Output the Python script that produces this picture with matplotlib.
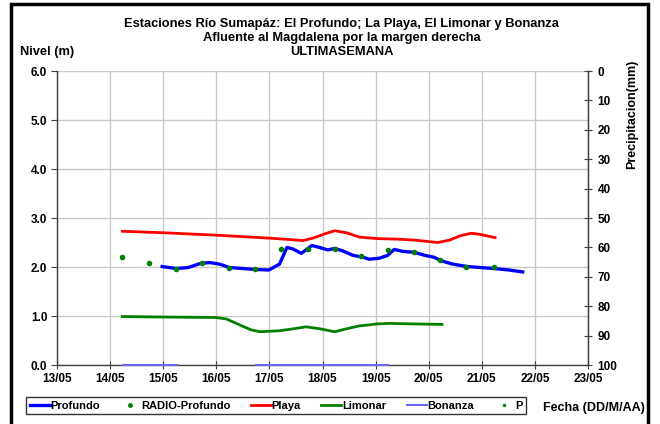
import matplotlib
matplotlib.use("Agg")
import matplotlib.pyplot as plt
from matplotlib.lines import Line2D
from matplotlib.patches import Rectangle

plt.rcParams['font.family'] = ['Liberation Sans', 'DejaVu Sans']
plt.rcParams['font.weight'] = 'bold'

# Day of May (fractional)
prof_x = [14.98, 15.25, 15.47, 15.72, 15.88, 16.06, 16.25, 16.50, 16.75, 16.99, 17.19, 17.33,
          17.44, 17.60, 17.69, 17.80, 17.94, 18.10, 18.23, 18.38, 18.57, 18.76, 18.88, 19.07,
          19.23, 19.35, 19.51, 19.73, 19.92, 20.10, 20.23, 20.45, 20.73, 20.98, 21.23, 21.51, 21.77]
prof_y = [2.01, 1.97, 1.99, 2.08, 2.09, 2.06, 1.99, 1.97, 1.95, 1.94, 2.06, 2.40,
          2.37, 2.28, 2.35, 2.44, 2.40, 2.35, 2.38, 2.33, 2.24, 2.20, 2.16, 2.18,
          2.24, 2.36, 2.32, 2.30, 2.24, 2.20, 2.13, 2.06, 2.01, 1.99, 1.97, 1.94, 1.90]

radio_x = [14.23, 14.73, 15.24, 15.73, 16.23, 16.72, 17.22, 17.72, 18.23, 18.73,
           19.23, 19.73, 20.22, 20.71, 21.23]
radio_y = [2.20, 2.09, 1.97, 2.08, 1.99, 1.97, 2.36, 2.36, 2.37, 2.22,
           2.34, 2.30, 2.14, 2.01, 2.00]

playa_x = [14.23, 15.0, 16.0, 17.0, 17.40, 17.63, 17.82, 18.05, 18.23, 18.45, 18.70, 19.04,
           19.40, 19.73, 20.00, 20.17, 20.39, 20.60, 20.80, 20.95, 21.25]
playa_y = [2.73, 2.70, 2.65, 2.59, 2.56, 2.54, 2.59, 2.68, 2.74, 2.70, 2.61, 2.58,
           2.57, 2.55, 2.52, 2.50, 2.55, 2.64, 2.69, 2.67, 2.60]

limon_x = [14.23, 15.0, 16.0, 16.19, 16.44, 16.65, 16.82, 17.19, 17.45, 17.69, 17.95, 18.23,
           18.45, 18.70, 19.04, 19.26, 19.70, 20.25]
limon_y = [0.99, 0.98, 0.97, 0.94, 0.82, 0.72, 0.68, 0.70, 0.74, 0.78, 0.74, 0.68,
           0.74, 0.80, 0.84, 0.85, 0.84, 0.83]

bon1_x = [14.25, 15.26]
bon1_y = [0.0, 0.0]
bon2_x = [16.74, 19.24]
bon2_y = [0.0, 0.0]

xticks = list(range(13, 24))
xlabels = ["%02d/05" % d for d in xticks]
yticks = [0, 1, 2, 3, 4, 5, 6]
ptick = list(range(0, 101, 10))

fig = plt.figure(figsize=(6.6, 4.24), dpi=100)
ax = fig.add_axes([0.0864, 0.139, 0.8045, 0.6935])

ax.set_xlim(13, 23)
ax.set_ylim(0, 6)
ax.set_xticks(xticks)
ax.set_xticklabels(xlabels, fontsize=8.5, fontweight='bold')
ax.set_yticks(yticks)
ax.set_yticklabels(["%.1f" % v for v in yticks], fontsize=8.5, fontweight='bold')
ax.grid(True, color='#c8c8c8', linewidth=1.0)
ax.set_axisbelow(True)
ax.spines['top'].set_visible(False)
for s in ['left', 'bottom', 'right']:
    ax.spines[s].set_color('#404040')
    ax.spines[s].set_linewidth(1.0)
ax.tick_params(axis='x', direction='inout', length=6, color='#404040', pad=3)
ax.tick_params(axis='y', direction='out', length=4, color='#404040', pad=3)

ax.plot(bon1_x, bon1_y, color='#6a6af0', lw=1.5, zorder=3, clip_on=False)
ax.plot(bon2_x, bon2_y, color='#6a6af0', lw=1.5, zorder=3, clip_on=False)
ax.plot(playa_x, playa_y, color='#ff0000', lw=2.0, zorder=4)
ax.plot(limon_x, limon_y, color='#008000', lw=2.0, zorder=4)
ax.plot(prof_x, prof_y, color='#0000ff', lw=2.4, zorder=5)
ax.plot(radio_x, radio_y, 'o', color='#008000', ms=3, zorder=6, lw=0)

ax2 = ax.twinx()
ax2.set_ylim(100, 0)
ax2.set_yticks(ptick)
ax2.set_yticklabels([str(v) for v in ptick], fontsize=8.5, fontweight='bold')
ax2.tick_params(axis='y', direction='inout', length=6, color='#404040', pad=4)
for s in ['top', 'left', 'bottom']:
    ax2.spines[s].set_visible(False)
ax2.spines['right'].set_color('#404040')

fig.text(0.518, 0.943, "Estaciones Río Sumapáz: El Profundo; La Playa, El Limonar y Bonanza",
         ha='center', va='center', fontsize=9.3, fontweight='bold')
fig.text(0.518, 0.910, "Afluente al Magdalena por la margen derecha",
         ha='center', va='center', fontsize=9.3, fontweight='bold')
fig.text(0.518, 0.877, "ULTIMASEMANA",
         ha='center', va='center', fontsize=9.3, fontweight='bold')
fig.text(0.03, 0.877, "Nivel (m)", ha='left', va='center', fontsize=9.3, fontweight='bold')
fig.text(0.958, 0.73, "Precipitacion(mm)", ha='center', va='center', rotation=90,
         fontsize=9, fontweight='bold')
fig.text(0.977, 0.037, "Fecha (DD/M/AA)", ha='right', va='center', fontsize=9, fontweight='bold')

# outer frame
fig.patches.append(Rectangle((0.017, -0.05), 0.965, 1.04, transform=fig.transFigure,
                             fill=False, edgecolor='black', linewidth=2.5))

handles = [
    Line2D([], [], color='#0000ff', lw=2.4),
    Line2D([], [], color='#008000', marker='o', ms=2.5, lw=0),
    Line2D([], [], color='#ff0000', lw=2.0),
    Line2D([], [], color='#008000', lw=2.0),
    Line2D([], [], color='#6a6af0', lw=1.5),
    Line2D([], [], color='#008000', marker='o', ms=1.5, lw=0),
]
labels = ["Profundo", "RADIO-Profundo", "Playa", "Limonar", "Bonanza", "P"]
leg = fig.legend(handles, labels, loc='center left', bbox_to_anchor=(0.04, 0.043),
                 ncol=6, frameon=True, fancybox=False, edgecolor='black',
                 handlelength=1.8, handletextpad=0.05, columnspacing=1.85, borderpad=0.3,
                 borderaxespad=0, prop={'weight': 'bold', 'size': 8})
leg.get_frame().set_linewidth(1.0)

fig.savefig("out.png", dpi=100)
